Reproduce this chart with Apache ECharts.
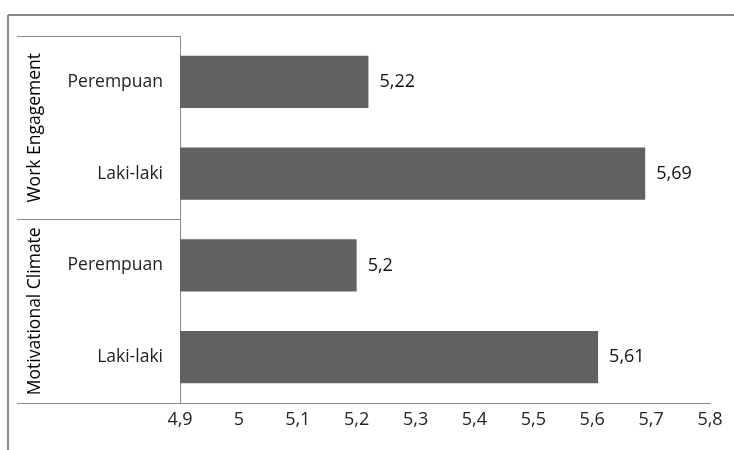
<!DOCTYPE html>
<html>
<head>
<meta charset="utf-8">
<script src="https://cdn.jsdelivr.net/npm/echarts@6/dist/echarts.min.js"></script>
<style>
  html, body { margin: 0; padding: 0; background: #fff; }
  #chart { width: 734px; height: 450px; }
</style>
</head>
<body>
<div id="chart"></div>
<script>
// kategori dari bawah ke atas (sumbu kategori ECharts mulai dari bawah)
const categories = ['Laki-laki', 'Perempuan', 'Laki-laki', 'Perempuan']
const groups = ['Motivational Climate', 'Work Engagement']
const values = [5.61, 5.2, 5.69, 5.22]
const xTicks = {min: 4.9, max: 5.8, interval: 0.1}

const fmt = v => String(Math.round(v * 100) / 100).replace('.', ',')
const font = '"Open Sans", "Liberation Sans", sans-serif'
const lineColor = '#8a8a8a'

const myChart = echarts.init(document.getElementById('chart'))

const options = {
  animation: false,
  textStyle: {fontFamily: font},
  grid: {left: 180, right: 24, top: 36, bottom: 47},
  xAxis: {
    type: 'value',
    min: xTicks.min,
    max: xTicks.max,
    interval: xTicks.interval,
    splitLine: {show: false},
    axisTick: {show: false},
    axisLine: {show: true, lineStyle: {color: lineColor, width: 1}},
    axisLabel: {
      margin: 8,
      fontSize: 18,
      color: '#222',
      fontFamily: font,
      formatter: v => fmt(v),
    },
  },
  yAxis: [
    {
      type: 'category',
      data: categories,
      axisTick: {show: false},
      axisLine: {show: true, lineStyle: {color: lineColor, width: 1}},
      axisLabel: {interval: 0, margin: 17, fontSize: 17.5, color: '#222', fontFamily: font},
    },
    {
      // label grup + garis pemisah
      type: 'category',
      data: groups,
      position: 'left',
      axisLine: {show: false},
      axisTick: {show: true, interval: 0, length: 163, lineStyle: {color: lineColor, width: 1}},
      axisLabel: {interval: 0, rotate: 90, margin: 136, fontSize: 17.5, color: '#000', fontFamily: font},
    },
  ],
  graphic: [
    {type: 'line', shape: {x1: 8, y1: 15, x2: 734, y2: 15}, style: {stroke: '#888', lineWidth: 2}},
    {type: 'line', shape: {x1: 8, y1: 15, x2: 8, y2: 450}, style: {stroke: '#888', lineWidth: 2}},
  ],
  series: [
    {
      type: 'bar',
      data: values,
      barWidth: '57%',
      itemStyle: {color: '#616161'},
      label: {
        show: true,
        position: 'right',
        distance: 11,
        fontSize: 18,
        color: '#111',
        fontFamily: font,
        formatter: p => fmt(p.value),
      },
    },
  ],
}

myChart.setOption(options)
</script>
</body>
</html>
